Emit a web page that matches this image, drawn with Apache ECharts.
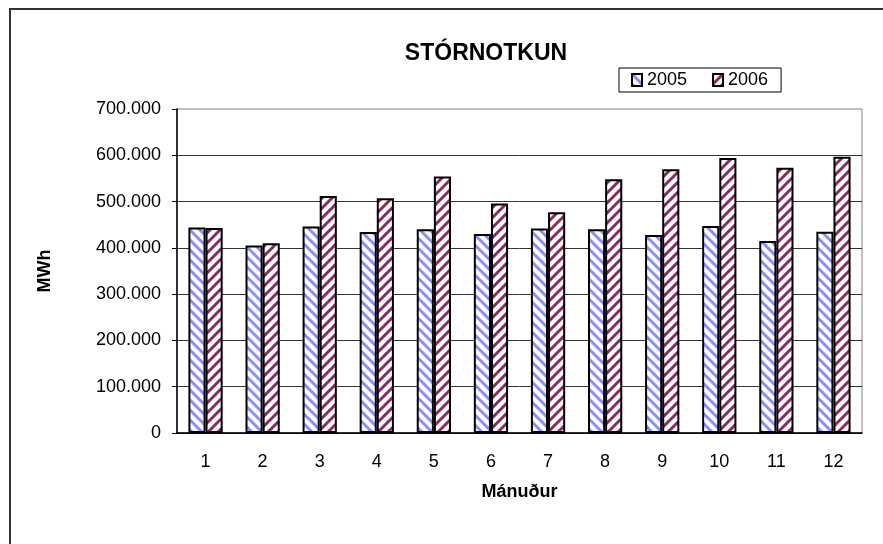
<!DOCTYPE html>
<html>
<head>
<meta charset="utf-8">
<script src="https://cdn.jsdelivr.net/npm/echarts@6/dist/echarts.min.js"></script>
<style>
  html, body { margin: 0; padding: 0; background: #fff; }
  #main { width: 883px; height: 544px; }
</style>
</head>
<body>
<div id="main"></div>
<script>
var months = ['1', '2', '3', '4', '5', '6', '7', '8', '9', '10', '11', '12'];
var y2005 = [444000, 405000, 446000, 434000, 440000, 430000, 442000, 440000, 428000, 447000, 415000, 435000];
var y2006 = [443000, 410000, 512000, 507000, 554000, 496000, 477000, 548000, 570000, 594000, 573000, 597000];

var font = 'Liberation Sans, Arial, sans-serif';

// hatch fill like the excel pattern
function stripes(color, dir) {
  var s = 10;
  var c = document.createElement('canvas');
  c.width = c.height = s;
  var g = c.getContext('2d');
  g.fillStyle = '#fff';
  g.fillRect(0, 0, s, s);
  g.strokeStyle = color;
  g.lineWidth = 3;
  g.beginPath();
  if (dir > 0) {
    g.moveTo(-2, s + 2); g.lineTo(s + 2, -2);
    g.moveTo(-2, 2); g.lineTo(2, -2);
    g.moveTo(s - 2, s + 2); g.lineTo(s + 2, s - 2);
  } else {
    g.moveTo(-2, -2); g.lineTo(s + 2, s + 2);
    g.moveTo(s - 2, -2); g.lineTo(s + 2, 2);
    g.moveTo(-2, s - 2); g.lineTo(2, s + 2);
  }
  g.stroke();
  return { image: c, repeat: 'repeat' };
}

function fmt(v) {
  if (v === 0) return '0';
  return String(v).replace(/\B(?=(\d{3})+(?!\d))/g, '.');
}

var myChart = echarts.init(document.getElementById('main'));
myChart.setOption({
  backgroundColor: '#fff',
  animation: false,
  textStyle: { fontFamily: font },
  graphic: [{
    type: 'rect',
    shape: { x: 10, y: 9, width: 900, height: 600 },
    style: { fill: 'none', stroke: '#333', lineWidth: 2 }
  }],
  title: {
    text: 'STÓRNOTKUN',
    left: 481,
    top: 37,
    textAlign: 'center',
    textStyle: { fontFamily: font, fontSize: 23, fontWeight: 'bold', color: '#000' }
  },
  legend: {
    left: 619,
    top: 68,
    padding: [3, 13, 3, 12],
    borderColor: '#000',
    borderWidth: 1,
    itemWidth: 10,
    itemHeight: 12,
    itemGap: 25,
    icon: 'rect',
    textStyle: { fontFamily: font, fontSize: 18, color: '#000' },
    data: ['2005', '2006']
  },
  grid: {
    left: 177,
    right: 21,
    top: 109,
    bottom: 111,
    show: true,
    borderColor: '#808080',
    borderWidth: 1
  },
  xAxis: {
    type: 'category',
    data: months,
    name: 'Mánuður',
    nameLocation: 'middle',
    nameGap: 50,
    nameTextStyle: { fontFamily: font, fontSize: 18, fontWeight: 'bold', color: '#000' },
    axisLine: { lineStyle: { color: '#000', width: 1.5 } },
    axisTick: { length: 5, lineStyle: { color: '#000' } },
    axisLabel: { margin: 20, fontSize: 18, color: '#000', fontFamily: font }
  },
  yAxis: {
    type: 'value',
    min: 0,
    max: 700000,
    interval: 100000,
    name: 'MWh',
    nameLocation: 'middle',
    nameGap: 123,
    nameTextStyle: { fontFamily: font, fontSize: 18, fontWeight: 'bold', color: '#000' },
    axisLine: { show: true, lineStyle: { color: '#000', width: 1.5 } },
    axisTick: { show: true, length: 5, lineStyle: { color: '#000' } },
    axisLabel: { margin: 16, fontSize: 18, color: '#000', fontFamily: font, formatter: fmt },
    splitLine: { showMaxLine: false, lineStyle: { color: '#333', width: 1 } }
  },
  series: [{
    name: '2005',
    type: 'bar',
    data: y2005,
    barGap: '0%',
    barCategoryGap: '40%',
    itemStyle: { color: stripes('#8c8cff', -1), borderColor: '#000', borderWidth: 2 }
  }, {
    name: '2006',
    type: 'bar',
    data: y2006,
    itemStyle: { color: stripes('#8a2a5e', 1), borderColor: '#000', borderWidth: 2 }
  }]
});
</script>
</body>
</html>
